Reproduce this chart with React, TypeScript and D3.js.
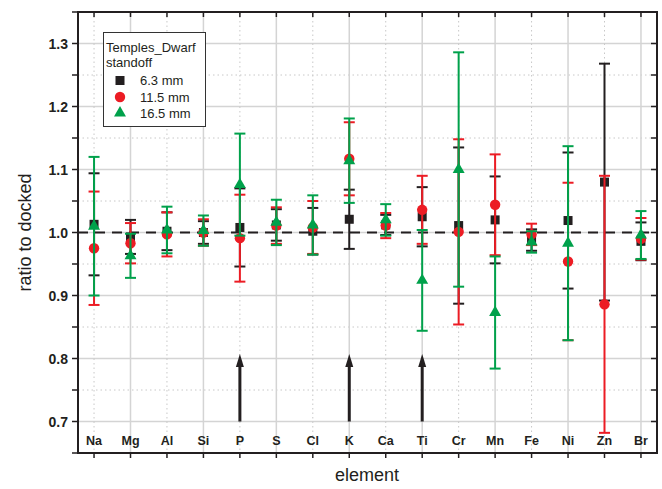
import React from 'react';
import * as d3 from 'd3';

// element categories
const elements = ['Na', 'Mg', 'Al', 'Si', 'P', 'S', 'Cl', 'K', 'Ca', 'Ti', 'Cr', 'Mn', 'Fe', 'Ni', 'Zn', 'Br'];

// 6.3 mm standoff
const ratio63 = [1.013, 0.993, 1.002, 1.0, 1.008, 1.012, 1.002, 1.021, 1.012, 1.025, 1.011, 1.02, 0.988, 1.019, 1.08, 0.986];
const err63 = [0.081, 0.027, 0.03, 0.018, 0.062, 0.025, 0.037, 0.047, 0.016, 0.047, 0.124, 0.069, 0.017, 0.108, 0.188, 0.03];

// 11.5 mm standoff
const ratio115 = [0.975, 0.983, 0.997, 1.0, 0.991, 1.011, 1.008, 1.117, 1.011, 1.036, 1.001, 1.044, 0.997, 0.954, 0.886, 0.99];
const err115 = [0.09, 0.032, 0.035, 0.021, 0.069, 0.029, 0.042, 0.058, 0.02, 0.054, 0.147, 0.08, 0.017, 0.125, 0.204, 0.033];

// 16.5 mm standoff (no Zn value)
const ratio165 = [1.01, 0.963, 1.004, 1.003, 1.076, 1.016, 1.012, 1.114, 1.02, 0.924, 1.1, 0.873, 0.985, 0.983, null, 0.996];
const err165 = [0.11, 0.035, 0.037, 0.024, 0.081, 0.036, 0.047, 0.067, 0.025, 0.08, 0.186, 0.089, 0.017, 0.154, null, 0.038];

// arrows marking elements
const arrowElements = ['P', 'K', 'Ti'];
const arrowFrom = 0.7;
const arrowTo = 0.807;

const yTicks = [0.7, 0.8, 0.9, 1.0, 1.1, 1.2, 1.3];
const yMinorTicks = [0.65, 0.75, 0.85, 0.95, 1.05, 1.15, 1.25, 1.35];

const W = 662;
const H = 489;
const left = 78;
const right = 657;
const top = 12;
const bottom = 453;

const BLACK = '#231f20';
const RED = '#ec1c24';
const GREEN = '#00a14b';
const FONT = 'Liberation Sans, Arial, sans-serif';

const x = d3.scaleLinear().domain([0.56, 16.44]).range([left, right]);
const y = d3.scaleLinear().domain([0.65, 1.35]).range([bottom, top]);

function Marker({ shape, cx, cy, color }: { shape: string; cx: number; cy: number; color: string }) {
  if (shape === 'square') {
    return <rect x={cx - 4.5} y={cy - 4.5} width={9} height={9} fill={color} />;
  }
  if (shape === 'circle') {
    return <circle cx={cx} cy={cy} r={5.2} fill={color} />;
  }
  const tri = d3.symbol().type(d3.symbolTriangle).size(62)();
  return <path d={tri || ''} transform={`translate(${cx},${cy})`} fill={color} />;
}

function Series({ vals, errs, color, shape }: { vals: (number | null)[]; errs: (number | null)[]; color: string; shape: string }) {
  const cap = 5.5;
  return (
    <g>
      {vals.map((v, i) => {
        if (v == null) return null;
        const e = errs[i] || 0;
        const cx = x(i + 1);
        const yHi = y(v + e);
        const yLo = y(v - e);
        return (
          <g key={i}>
            <line x1={cx} x2={cx} y1={yHi} y2={yLo} stroke={color} strokeWidth={2} />
            <line x1={cx - cap} x2={cx + cap} y1={yHi} y2={yHi} stroke={color} strokeWidth={2} />
            <line x1={cx - cap} x2={cx + cap} y1={yLo} y2={yLo} stroke={color} strokeWidth={2} />
            <Marker shape={shape} cx={cx} cy={y(v)} color={color} />
          </g>
        );
      })}
    </g>
  );
}

export default function App() {
  const idx = elements.map((_, i) => i + 1);
  return (
    <svg width={W} height={H} style={{ position: 'absolute', left: 0, top: 0, background: '#fff' }} fontFamily={FONT}>
      <defs>
        <clipPath id="plotArea">
          <rect x={left} y={top} width={right - left} height={bottom - top} />
        </clipPath>
      </defs>

      {/* grid */}
      <g>
        {yMinorTicks.map((t) => (
          <line key={'ym' + t} x1={left} x2={right} y1={y(t)} y2={y(t)} stroke="#c8c8c8" strokeWidth={1} strokeDasharray="1.5,3" />
        ))}
        {yTicks.map((t) => (
          <line key={'yg' + t} x1={left} x2={right} y1={y(t)} y2={y(t)} stroke="#d4d4d4" strokeWidth={1.5} />
        ))}
        {idx.map((i) =>
          i % 2 === 0 ? (
            <line key={'xg' + i} x1={x(i)} x2={x(i)} y1={top} y2={bottom} stroke="#d4d4d4" strokeWidth={1.5} />
          ) : (
            <line key={'xg' + i} x1={x(i)} x2={x(i)} y1={top} y2={bottom} stroke="#c8c8c8" strokeWidth={1} strokeDasharray="1.5,3" />
          )
        )}
      </g>

      {/* reference line at 1.0 */}
      <line x1={left} x2={right} y1={y(1)} y2={y(1)} stroke={BLACK} strokeWidth={2} strokeDasharray="10,7" />

      {/* arrows */}
      <g>
        {arrowElements.map((el) => {
          const cx = x(elements.indexOf(el) + 1);
          const y0 = y(arrowFrom);
          const y1 = y(arrowTo);
          return (
            <g key={el}>
              <line x1={cx} x2={cx} y1={y0} y2={y1 + 10} stroke={BLACK} strokeWidth={3} />
              <path d={`M${cx},${y1} L${cx - 4},${y1 + 13} L${cx + 4},${y1 + 13} Z`} fill={BLACK} />
            </g>
          );
        })}
      </g>

      <g clipPath="url(#plotArea)">
        <Series vals={ratio63} errs={err63} color={BLACK} shape="square" />
        <Series vals={ratio115} errs={err115} color={RED} shape="circle" />
        <Series vals={ratio165} errs={err165} color={GREEN} shape="triangle" />
      </g>

      {/* element labels inside plot */}
      {elements.map((el, i) => (
        <text key={el} x={x(i + 1)} y={445} textAnchor="middle" fontSize={12.5} fontWeight="bold" fill={BLACK}>
          {el}
        </text>
      ))}

      {/* frame */}
      <rect x={left} y={top} width={right - left} height={bottom - top} fill="none" stroke={BLACK} strokeWidth={2} />

      {/* x ticks */}
      {idx.map((i) => (
        <g key={'xt' + i}>
          <line x1={x(i)} x2={x(i)} y1={bottom} y2={bottom + 5} stroke={BLACK} strokeWidth={1.5} />
          <line x1={x(i)} x2={x(i)} y1={top} y2={top + 5} stroke={BLACK} strokeWidth={1.5} />
        </g>
      ))}

      {/* y ticks */}
      {yTicks.concat(yMinorTicks).map((t) => (
        <g key={'yt' + t}>
          <line x1={left - 6} x2={left} y1={y(t)} y2={y(t)} stroke={BLACK} strokeWidth={1.5} />
          <line x1={right - 6} x2={right} y1={y(t)} y2={y(t)} stroke={BLACK} strokeWidth={1.5} />
        </g>
      ))}
      {yTicks.map((t) => (
        <text key={'yl' + t} x={left - 10} y={y(t) + 5} textAnchor="end" fontSize={14} fontWeight="bold" fill={BLACK}>
          {d3.format('.1f')(t)}
        </text>
      ))}

      {/* axis titles */}
      <text x={367} y={481} textAnchor="middle" fontSize={18} fill={BLACK}>
        element
      </text>
      <text transform={`translate(31,${y(1)}) rotate(-90)`} textAnchor="middle" fontSize={18} fill={BLACK}>
        ratio to docked
      </text>

      {/* legend */}
      <g>
        <rect x={103.5} y={32.5} width={102} height={94} fill="#fff" stroke="#333" strokeWidth={1} />
        <text x={106} y={52} fontSize={13} fill={BLACK}>Temples_Dwarf</text>
        <text x={106} y={67} fontSize={13} fill={BLACK}>standoff</text>
        <Marker shape="square" cx={120} cy={80.5} color={BLACK} />
        <text x={140} y={85} fontSize={13} fill={BLACK}>6.3 mm</text>
        <Marker shape="circle" cx={120} cy={97} color={RED} />
        <text x={140} y={102} fontSize={13} fill={BLACK}>11.5 mm</text>
        <Marker shape="triangle" cx={120} cy={113} color={GREEN} />
        <text x={140} y={118} fontSize={13} fill={BLACK}>16.5 mm</text>
      </g>
    </svg>
  );
}
